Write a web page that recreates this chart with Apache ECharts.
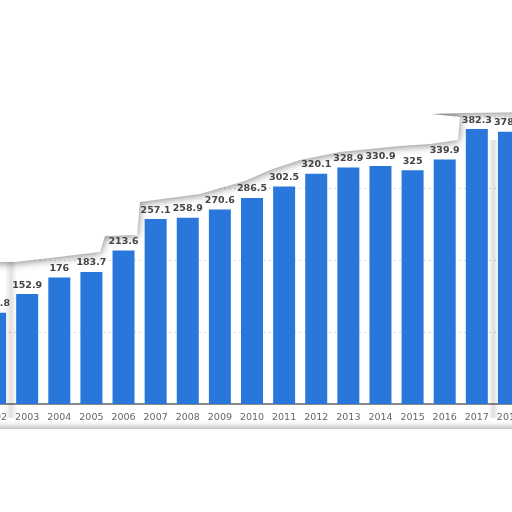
<!DOCTYPE html>
<html>
<head>
<meta charset="utf-8">
<script src="https://cdn.jsdelivr.net/npm/echarts@6/dist/echarts.min.js"></script>
<style>html,body{margin:0;padding:0;background:#fff;overflow:hidden;width:512px;height:512px;}#c{position:absolute;left:-21px;top:0;width:546px;height:512px;}</style>
</head>
<body>
<div id="c"></div>
<script>
var years = ['2002','2003','2004','2005','2006','2007','2008','2009','2010','2011','2012','2013','2014','2015','2016','2017','2018'];
var values = [126.8,152.9,176,183.7,213.6,257.1,258.9,270.6,286.5,302.5,320.1,328.9,330.9,325,339.9,382.3,378.5];

var chart = echarts.init(document.getElementById('c'));
var tearTop = [[-30,-20],[560,-20],[560,112],[462,113],[432,114],[460,117],[458,140],[430,144],[400,146],[340,152],[300,160],[270,170],[245,181],[200,194],[140,202],[137,235],[105,236],[100,252],[50,258],[15,262],[-30,262]];
function sideShade(x0, x1, y0) {
  return {type: 'rect', x: 21, z: 1, shape: {x: x0, y: y0, width: x1 - x0, height: 418 - y0},
    style: {fill: new echarts.graphic.LinearGradient(0, 0, 1, 0, [
      {offset: 0, color: 'rgba(0,0,0,0)'}, {offset: 0.5, color: 'rgba(0,0,0,0.12)'}, {offset: 1, color: 'rgba(0,0,0,0)'}])}};
}
chart.setOption({
  animation: false,
  grid: {left: 0, right: 0, top: 44.4, bottom: 108},
  xAxis: {
    type: 'category', data: years,
    axisTick: {show: false},
    axisLine: {lineStyle: {color: '#8a8a8a', width: 2}},
    axisLabel: {interval: 0, color: '#666', fontSize: 9.5, fontFamily: 'DejaVu Sans', margin: 9}
  },
  yAxis: {
    type: 'value', min: 0, max: 500, interval: 100,
    axisLabel: {show: false}, axisLine: {show: false}, axisTick: {show: false},
    splitLine: {lineStyle: {color: '#d8d8d8', type: [2, 3], width: 1}}
  },
  graphic: [
    sideShade(5, 17, 258),
    sideShade(488, 499, 140),
    {type: 'polygon', x: 21, z: 1, shape: {points: tearTop}, style: {fill: '#fff', shadowBlur: 8, shadowColor: 'rgba(0,0,0,0.5)', shadowOffsetY: 1}},
    {type: 'rect', x: 21, z: 1, shape: {x: -30, y: 429, width: 600, height: 120}, style: {fill: '#fff', shadowBlur: 7, shadowColor: 'rgba(0,0,0,0.4)', shadowOffsetY: -1}}
  ],
  series: [{
    type: 'bar', data: values, barWidth: 22, z: 3,
    itemStyle: {color: '#2a77dc'},
    label: {show: true, position: 'top', distance: 4, color: '#444', fontSize: 9.5, fontWeight: 'bold', fontFamily: 'DejaVu Sans'}
  }]
});
</script>
</body>
</html>
